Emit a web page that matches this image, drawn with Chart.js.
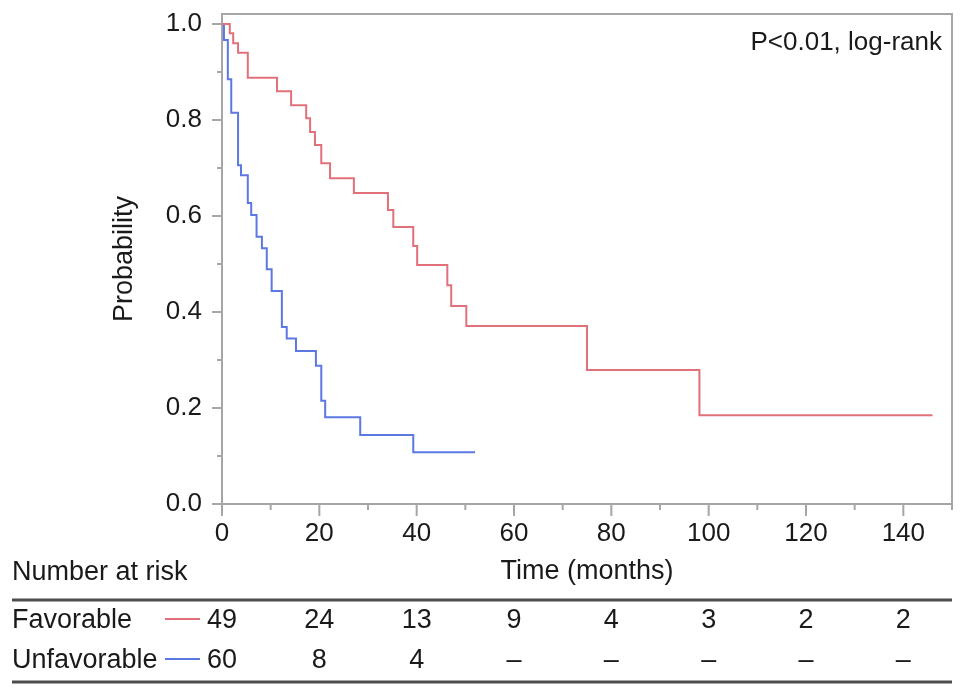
<!DOCTYPE html>
<html lang="en">
<head>
<meta charset="UTF-8">
<title>Kaplan-Meier curve</title>
<script src="https://cdn.jsdelivr.net/npm/chart.js@4.4.0/dist/chart.umd.min.js"></script>
<style>
  html, body { margin: 0; padding: 0; background: #fff; }
  #km { display: block; }
</style>
</head>
<body>
<canvas id="km" width="969" height="695" style="width:969px;height:695px"></canvas>
<script>
// survival steps (time in months, probability after the drop)
const favTimes = [0, 1.6, 2.3, 3.3, 5.3, 11.3, 14.2, 17.3, 18.1, 19.1, 20.4, 22.2, 27.1, 34.1, 35.2, 39.3, 40.1, 46.3, 47.1, 50.2, 75.0, 98.1, 146];
const favSurv = [1.0, 0.981, 0.96, 0.94, 0.888, 0.86, 0.831, 0.804, 0.775, 0.748, 0.71, 0.679, 0.648, 0.6125, 0.577, 0.5375, 0.498, 0.456, 0.4125, 0.371, 0.279, 0.185, 0.185];

const unfTimes = [0, 0.4, 1.2, 1.9, 3.3, 3.9, 5.3, 6.0, 7.1, 8.2, 9.2, 10.2, 12.3, 13.3, 15.2, 19.3, 20.4, 21.2, 28.4, 39.3, 52];
const unfSurv = [1.0, 0.967, 0.885, 0.815, 0.706, 0.685, 0.627, 0.602, 0.557, 0.533, 0.489, 0.444, 0.369, 0.345, 0.319, 0.288, 0.215, 0.181, 0.144, 0.108, 0.108];

// number at risk table
const riskTimes = [0, 20, 40, 60, 80, 100, 120, 140];
const favRisk = [49, 24, 13, 9, 4, 3, 2, 2];
const unfRisk = [60, 8, 4, null, null, null, null, null];
const groupNames = ['Favorable', 'Unfavorable'];

const RED = '#e2707b';
const BLUE = '#5c78e2';
const FONT = '"Liberation Sans", Arial, Helvetica, sans-serif';

function pts(ts, ss) {
  return ts.map((t, i) => ({ x: t, y: ss[i] }));
}

// frame, tick marks, p-value and risk table
const kmExtras = {
  id: 'kmExtras',
  beforeDatasetsDraw(chart) {
    const { ctx, chartArea: a, scales: { x, y } } = chart;
    ctx.save();
    ctx.strokeStyle = '#a6a6a6';
    ctx.lineWidth = 2;
    ctx.strokeRect(a.left, a.top, a.right - a.left, a.bottom - a.top);
    ctx.beginPath();
    y.ticks.forEach(t => {
      const py = y.getPixelForValue(t.value);
      const len = t.label ? 10 : 5;
      ctx.moveTo(a.left - len, py);
      ctx.lineTo(a.left, py);
    });
    x.ticks.forEach(t => {
      const px = x.getPixelForValue(t.value);
      const len = t.label ? 12 : 6;
      ctx.moveTo(px, a.bottom);
      ctx.lineTo(px, a.bottom + len);
    });
    ctx.stroke();
    ctx.restore();
  },
  afterDraw(chart) {
    const { ctx, chartArea: a, scales: { x } } = chart;
    ctx.save();
    ctx.fillStyle = '#1a1a1a';

    ctx.font = '26px ' + FONT;
    ctx.textAlign = 'right';
    ctx.textBaseline = 'alphabetic';
    ctx.fillText('P<0.01, log-rank', a.right - 10, 50);

    ctx.font = '27px ' + FONT;
    ctx.textAlign = 'left';
    ctx.textBaseline = 'middle';
    ctx.fillText('Number at risk', 12, 573);

    // table rules
    ctx.strokeStyle = '#4d4d4d';
    ctx.lineWidth = 3;
    ctx.beginPath();
    ctx.moveTo(12, 600); ctx.lineTo(a.right, 600);
    ctx.moveTo(12, 682); ctx.lineTo(a.right, 682);
    ctx.stroke();

    const rows = [favRisk, unfRisk];
    const colors = [RED, BLUE];
    const rowY = [621, 661];
    rows.forEach((row, r) => {
      ctx.fillStyle = '#1a1a1a';
      ctx.textAlign = 'left';
      ctx.fillText(groupNames[r], 12, rowY[r]);
      ctx.strokeStyle = colors[r];
      ctx.lineWidth = 2;
      ctx.beginPath();
      ctx.moveTo(165, rowY[r] - 2);
      ctx.lineTo(200, rowY[r] - 2);
      ctx.stroke();
      ctx.textAlign = 'center';
      row.forEach((n, i) => {
        const px = x.getPixelForValue(riskTimes[i]);
        ctx.fillText(n === null ? '\u2013' : String(n), px, rowY[r]);
      });
    });
    ctx.restore();
  }
};

const ctx = document.getElementById('km').getContext('2d');
new Chart(ctx, {
  type: 'line',
  data: {
    datasets: [
      {
        label: groupNames[0],
        data: pts(favTimes, favSurv),
        borderColor: RED,
        borderWidth: 2,
        stepped: true,
        pointRadius: 0,
        fill: false
      },
      {
        label: groupNames[1],
        data: pts(unfTimes, unfSurv),
        borderColor: BLUE,
        borderWidth: 2,
        stepped: true,
        pointRadius: 0,
        fill: false
      }
    ]
  },
  options: {
    responsive: false,
    animation: false,
    layout: { padding: { top: 14, right: 17, left: 0, bottom: 0 } },
    plugins: {
      legend: { display: false },
      tooltip: { enabled: false }
    },
    scales: {
      x: {
        type: 'linear',
        min: 0,
        max: 150,
        afterFit: s => { s.height = 191; s.paddingLeft = 0; s.paddingRight = 0; },
        border: { display: false },
        grid: { display: false, drawTicks: false },
        ticks: {
          stepSize: 10,
          autoSkip: false,
          maxRotation: 0,
          includeBounds: false,
          padding: 14,
          color: '#1a1a1a',
          font: { family: FONT, size: 26 },
          callback: v => (Math.round(v) % 20 === 0 ? String(Math.round(v)) : '')
        },
        title: {
          display: true,
          text: 'Time (months)',
          color: '#1a1a1a',
          font: { family: FONT, size: 27 },
          padding: { top: 0, bottom: 107 }
        }
      },
      y: {
        min: 0,
        max: 1.021,
        afterFit: s => { s.width = 222; s.paddingTop = 0; s.paddingBottom = 0; },
        border: { display: false },
        grid: { display: false, drawTicks: false },
        ticks: {
          stepSize: 0.1,
          autoSkip: false,
          includeBounds: false,
          padding: 20,
          color: '#1a1a1a',
          font: { family: FONT, size: 26 },
          callback: v => (Math.round(v * 10) % 2 === 0 ? (Math.round(v * 10) / 10).toFixed(1) : '')
        },
        title: {
          display: true,
          text: 'Probability',
          color: '#1a1a1a',
          font: { family: FONT, size: 27 },
          padding: { top: 108, bottom: 0 }
        }
      }
    }
  },
  plugins: [kmExtras]
});
</script>
</body>
</html>
